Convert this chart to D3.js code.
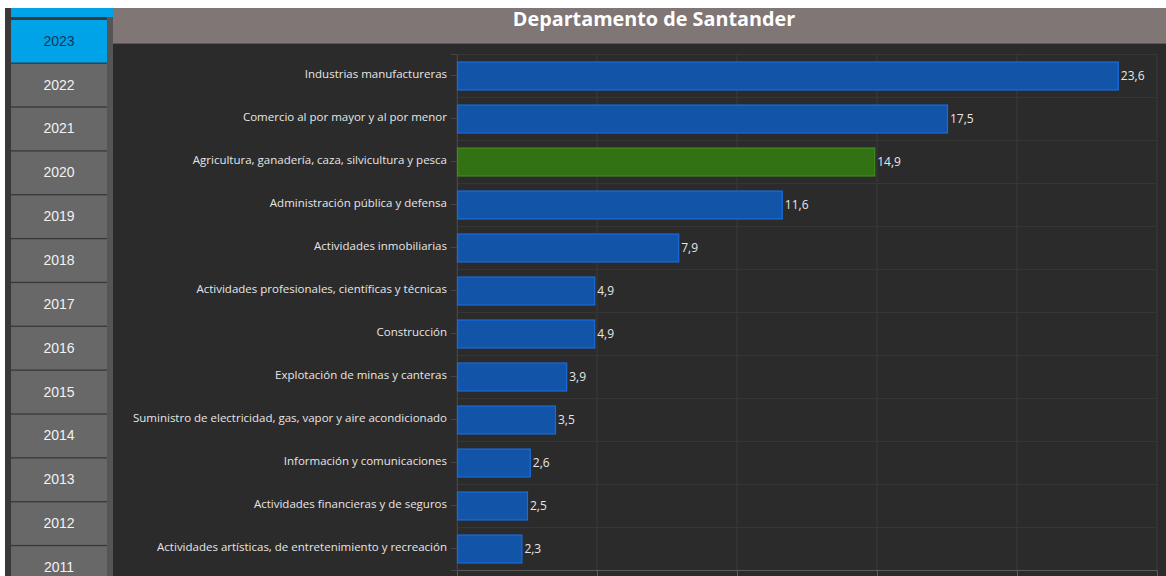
<!DOCTYPE html>
<html>
<head>
<meta charset="utf-8">
<script src="https://cdn.jsdelivr.net/npm/d3@7"></script>
<style>
  body { margin: 0; background: #fff; overflow: hidden; }
  svg { display: block; }
</style>
</head>
<body>
<div id="chart"></div>
<script>
var years = ["2023", "2022", "2021", "2020", "2019", "2018", "2017", "2016", "2015", "2014", "2013", "2012", "2011"];
var categories = [
  "Industrias manufactureras",
  "Comercio al por mayor y al por menor",
  "Agricultura, ganadería, caza, silvicultura y pesca",
  "Administración pública y defensa",
  "Actividades inmobiliarias",
  "Actividades profesionales, científicas y técnicas",
  "Construcción",
  "Explotación de minas y canteras",
  "Suministro de electricidad, gas, vapor y aire acondicionado",
  "Información y comunicaciones",
  "Actividades financieras y de seguros",
  "Actividades artísticas, de entretenimiento y recreación"
];
var values = [23.6, 17.5, 14.9, 11.6, 7.9, 4.9, 4.9, 3.9, 3.5, 2.6, 2.5, 2.3];
var highlight = "Agricultura, ganadería, caza, silvicultura y pesca";
var xTicks = [0, 5, 10, 15, 20, 25];

var width = 1166, height = 576;
var svg = d3.select("#chart").append("svg")
  .attr("width", width)
  .attr("height", height);

// fondo
svg.append("rect").attr("x", 0).attr("y", 0).attr("width", width).attr("height", height).attr("fill", "#fff");
svg.append("rect").attr("x", 5).attr("y", 8).attr("width", width - 5).attr("height", height - 8).attr("fill", "#3a3838");
svg.append("rect").attr("x", 113).attr("y", 44).attr("width", width - 113).attr("height", height - 44).attr("fill", "#2b2b2b");

// panel de años
svg.append("rect").attr("x", 11).attr("y", 8).attr("width", 102).attr("height", 9).attr("fill", "#00a2e8");
svg.append("rect").attr("x", 107).attr("y", 17).attr("width", 6).attr("height", height - 17).attr("fill", "#555555");

var yearY = d3.scaleBand().domain(years).range([20, 20 + 43.75 * years.length]).paddingInner(0.03);
var btn = svg.append("g").selectAll("g")
  .data(years)
  .enter()
  .append("g")
  .attr("transform", function(d) { return "translate(11," + yearY(d) + ")"; });
btn.append("rect")
  .attr("width", 96)
  .attr("height", yearY.bandwidth())
  .attr("fill", function(d, i) { return i == 0 ? "#00a2e8" : "#686868"; });
btn.append("text")
  .attr("x", 48)
  .attr("y", yearY.bandwidth() / 2 + 4.5)
  .attr("text-anchor", "middle")
  .attr("font-family", "'Liberation Sans', Arial, sans-serif")
  .attr("font-size", "14px")
  .attr("fill", function(d, i) { return i == 0 ? "#12385a" : "#f2f2f2"; })
  .text(function(d) { return d; });

// título
svg.append("rect").attr("x", 113).attr("y", 8).attr("width", width - 113).attr("height", 36).attr("fill", "#807676");
svg.append("rect").attr("x", 113).attr("y", 43).attr("width", width - 113).attr("height", 1).attr("fill", "#5e5757");
svg.append("text")
  .attr("x", 654)
  .attr("y", 19)
  .attr("dy", "0.35em")
  .attr("text-anchor", "middle")
  .attr("font-family", "'Open Sans', sans-serif")
  .attr("font-weight", "bold")
  .attr("font-size", "19.8px")
  .attr("fill", "#ffffff")
  .text("Departamento de Santander");

// gráfico
var x = d3.scaleLinear().domain([0, 25]).range([457, 1157]);
var y = d3.scaleBand().domain(categories).range([54, 570]).paddingInner(0.35).paddingOuter(0.175);

var grid = svg.append("g");
grid.selectAll("line.v")
  .data(xTicks)
  .enter()
  .append("line")
  .attr("class", "v")
  .attr("x1", function(d) { return x(d); })
  .attr("x2", function(d) { return x(d); })
  .attr("y1", 54)
  .attr("y2", 570)
  .attr("stroke", "#3a3a3a")
  .attr("stroke-width", 1);
grid.selectAll("line.h")
  .data(categories)
  .enter()
  .append("line")
  .attr("class", "h")
  .attr("x1", 457)
  .attr("x2", 1157)
  .attr("y1", function(d) { return y(d) - y.step() * y.paddingInner() / 2 + 0.5; })
  .attr("y2", function(d) { return y(d) - y.step() * y.paddingInner() / 2 + 0.5; })
  .attr("stroke", "#363636")
  .attr("stroke-width", 1);

var xAxis = svg.append("g")
  .attr("transform", "translate(0,570)")
  .call(d3.axisBottom(x).tickValues(xTicks).tickSize(6).tickFormat(""));
xAxis.select(".domain").attr("stroke", "#5a5a5a");
xAxis.selectAll(".tick line").attr("stroke", "#5a5a5a");

var yAxis = svg.append("g")
  .attr("transform", "translate(457,0)")
  .call(d3.axisLeft(y).tickSize(6).tickPadding(4));
yAxis.select(".domain").attr("stroke", "#444");
yAxis.selectAll(".tick line").attr("stroke", "#444");
yAxis.selectAll(".tick text")
  .attr("font-family", "'Open Sans', sans-serif")
  .attr("font-size", "11.5px")
  .attr("dy", "0.2em")
  .attr("fill", "#e6e6e6");

svg.append("g").selectAll("rect")
  .data(values)
  .enter()
  .append("rect")
  .attr("x", x(0) + 0.5)
  .attr("y", function(d, i) { return y(categories[i]) + 0.5; })
  .attr("width", function(d) { return x(d) - x(0); })
  .attr("height", y.bandwidth())
  .attr("fill", function(d, i) { return categories[i] == highlight ? "#337214" : "#1154a8"; })
  .attr("stroke", function(d, i) { return categories[i] == highlight ? "#3f8c1c" : "#1a6bdc"; })
  .attr("stroke-width", 1.2);

svg.append("g").selectAll("text")
  .data(values)
  .enter()
  .append("text")
  .attr("x", function(d) { return x(d) + 3; })
  .attr("y", function(d, i) { return y(categories[i]) + y.bandwidth() / 2; })
  .attr("dy", "0.38em")
  .attr("font-family", "'Open Sans', sans-serif")
  .attr("font-size", "12px")
  .attr("fill", "#e6e6e6")
  .text(function(d) { return d3.format(".1f")(d).replace(".", ","); });
</script>
</body>
</html>
